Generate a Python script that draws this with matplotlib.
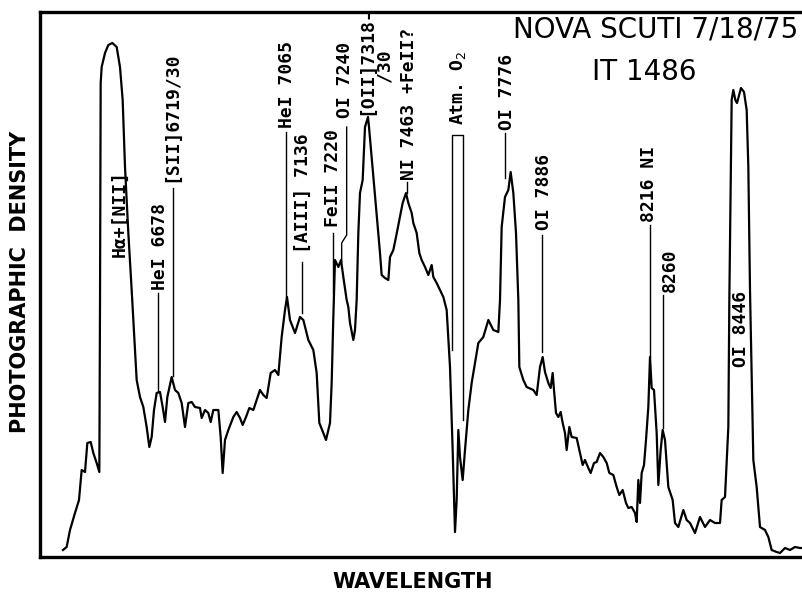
import matplotlib.pyplot as plt

# Nova Scuti 1975, plate IT 1486 - densitometer tracing
# wavelength in Angstrom (approximate), density in arbitrary units
wavelength = [
    6416, 6427, 6437, 6452, 6464, 6472, 6482, 6489, 6499, 6507, 6517, 6525,
    6527, 6529, 6532, 6542, 6552, 6564, 6577, 6587, 6595, 6602, 6612, 6622,
    6632, 6637, 6647, 6657, 6667, 6675, 6682, 6689, 6697, 6707, 6715, 6722,
    6729, 6742, 6752, 6762, 6772, 6782, 6792, 6802, 6812, 6827, 6832, 6842,
    6852, 6859, 6867, 6882, 6889, 6895, 6902, 6912, 6927, 6937, 6947, 6955,
    6965, 6975, 6987, 6997, 7007, 7017, 7027, 7039, 7052, 7062, 7072, 7082,
    7088, 7097, 7112, 7127, 7137, 7152, 7167, 7177, 7185, 7197, 7205, 7217,
    7222, 7227, 7232, 7242, 7250, 7257, 7267, 7272, 7277, 7287, 7292, 7297,
    7302, 7307, 7315, 7322, 7331, 7334, 7342, 7355, 7367, 7372, 7382, 7392,
    7397, 7407, 7415, 7422, 7429, 7435, 7445, 7452, 7462, 7467, 7477, 7485,
    7492, 7502, 7512, 7522, 7527, 7537, 7547, 7557, 7567, 7577, 7585, 7592,
    7597, 7602, 7607, 7615, 7622, 7632, 7642, 7652, 7662, 7677, 7692, 7707,
    7722, 7727, 7732, 7742, 7752, 7759, 7767, 7775, 7782, 7785, 7797, 7807,
    7827, 7837, 7847, 7855, 7862, 7872, 7879, 7885, 7889, 7895, 7902, 7909,
    7915, 7922, 7927, 7935, 7942, 7957, 7967, 7975, 7982, 7992, 7999, 8009,
    8017, 8027, 8037, 8047, 8055, 8067, 8077, 8085, 8095, 8105, 8112, 8122,
    8132, 8137, 8142, 8147, 8152, 8159, 8165, 8172, 8177, 8182, 8189, 8197,
    8202, 8209, 8215, 8222, 8232, 8245, 8252, 8262, 8277, 8287, 8297, 8312,
    8327, 8342, 8357, 8372, 8387, 8392, 8402, 8407, 8412, 8415, 8422, 8427,
    8433, 8438, 8450, 8459, 8467, 8472, 8477, 8487, 8497, 8507, 8522, 8532,
    8542, 8557, 8567, 8582, 8597, 8612, 8627, 8636,
]
density = [
    7, 10, 27, 44, 57, 87, 85, 114, 115, 104, 94, 85,
    250, 474, 490, 504, 512, 514, 510, 490, 457, 390, 324, 267,
    207, 177, 160, 150, 130, 110, 120, 147, 164, 165, 150, 135,
    160, 180, 167, 164, 154, 130, 154, 155, 150, 149, 139, 147,
    144, 135, 147, 147, 120, 84, 117, 127, 140, 145, 139, 132,
    140, 149, 147, 157, 167, 162, 159, 184, 187, 182, 220, 247,
    260, 237, 224, 240, 237, 217, 207, 184, 134, 124, 117, 134,
    174, 240, 297, 290, 297, 280, 257, 250, 234, 217, 227, 257,
    324, 364, 377, 430, 440, 430, 400, 350, 304, 282, 279, 277,
    300, 307, 320, 332, 344, 354, 364, 354, 344, 334, 324, 304,
    297, 290, 282, 292, 280, 274, 267, 260, 247, 190, 107, 25,
    57, 127, 100, 77, 107, 147, 174, 194, 214, 220, 237, 227,
    225, 257, 330, 360, 367, 385, 364, 324, 257, 190, 177, 170,
    167, 162, 190, 200, 185, 174, 169, 184, 167, 144, 140, 145,
    134, 124, 107, 130, 120, 119, 104, 92, 97, 89, 84, 94,
    95, 104, 100, 94, 84, 82, 70, 62, 67, 54, 49, 50,
    44, 35, 77, 54, 84, 92, 117, 150, 200, 169, 167, 124,
    72, 107, 127, 117, 70, 57, 34, 30, 47, 37, 34, 24,
    40, 30, 37, 34, 34, 57, 60, 94, 130, 257, 457, 467,
    457, 454, 469, 465, 447, 390, 267, 97, 70, 30, 27, 20,
    7, 5, 4, 9, 7, 10, 9, 9,
]
assert len(wavelength) == len(density)

# line identifications: text, text position (wl, bottom of text), marker line
labels = [
    ("H\u03b1+[NII]", 6585, 300, None),
    ("HeI 6678", 6708, 267, ([6702, 6702], [264, 166])),
    ("[SII]6719/30", 6741, 375, ([6747, 6747], [369, 181])),
    ("HeI 7065", 7089, 429, ([7084, 7084], [425, 260])),
    ("[AIII] 7136", 7137, 304, ([7132, 7132], [295, 244])),
    ("FeII 7220", 7227, 330, ([7227, 7227], [324, 264])),
    ("OI 7240", 7262, 439, ([7267, 7267, 7252, 7252], [430, 322, 314, 295])),
    ("[OII]7318-", 7327, 442, None),
    ("/30", 7382, 475, None),
    ("NI 7463 +FeII?", 7454, 377, ([7448, 7448], [375, 364])),
    ("Atm. O$_2$", 7601, 432, ([7583, 7583, 7616, 7616], [207, 422, 422, 137])),
    ("OI 7776", 7749, 427, ([7742, 7742], [424, 379])),
    ("OI 7886", 7859, 327, ([7853, 7853], [322, 205])),
    ("8216 NI", 8174, 335, ([8177, 8177], [332, 200])),
    ("8260", 8237, 265, ([8217, 8217], [262, 129])),
    ("OI 8446", 8450, 190, None),
]

fig = plt.figure(figsize=(8.03, 5.96), dpi=100)
ax = fig.add_axes([40 / 803, 1 - 557 / 596, 763 / 803, 545 / 596])

ax.plot(wavelength, density, color="black", lw=1.6)

for text, x, y, line in labels:
    ax.text(x, y, text, rotation=90, ha="center", va="bottom",
            fontsize=13, family="DejaVu Sans Mono", fontweight="bold")
    if line is not None:
        ax.plot(line[0], line[1], color="black", lw=1.0)

ax.set_xlim(6347, 8636)
ax.set_ylim(0, 545)
ax.set_xticks([])
ax.set_yticks([])
for side in ["left", "bottom", "top"]:
    ax.spines[side].set_linewidth(2.4)
ax.spines["right"].set_visible(False)

fig.text(798 / 803, 1 - 38 / 596, "NOVA SCUTI 7/18/75", ha="right",
         va="baseline", fontsize=20)
fig.text(592 / 803, 1 - 80 / 596, "IT 1486", ha="left", va="baseline",
         fontsize=20)
fig.text(20 / 803, 1 - 282 / 596, "PHOTOGRAPHIC  DENSITY", rotation=90,
         ha="center", va="center", fontsize=15, fontweight="bold")
fig.text(413 / 803, 1 - 582 / 596, "WAVELENGTH", ha="center", va="center",
         fontsize=15, fontweight="bold")

fig.savefig("out.png", dpi=100)
